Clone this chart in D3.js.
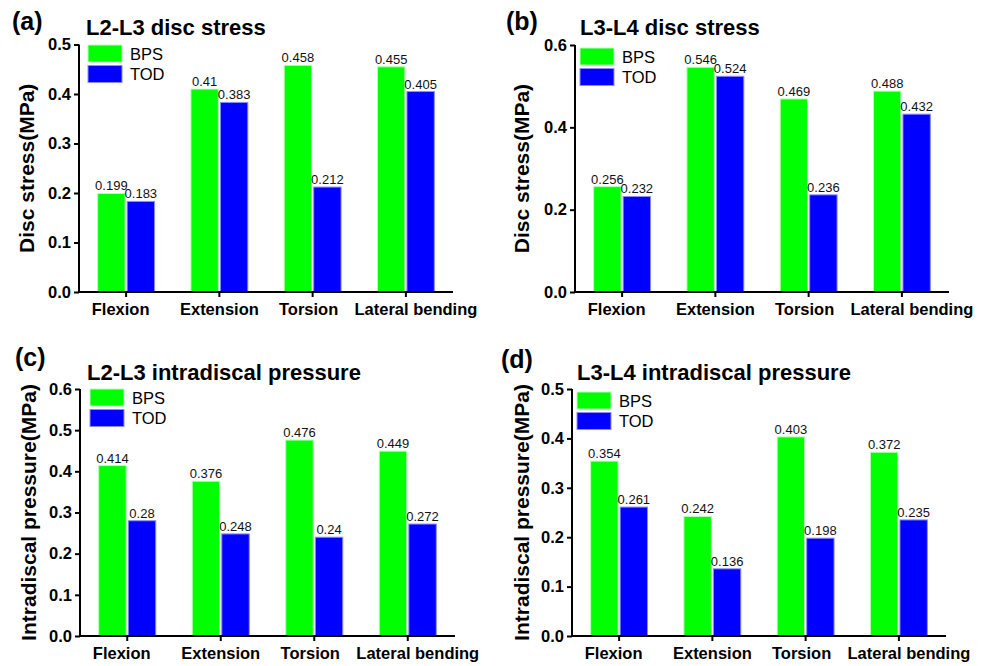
<!DOCTYPE html>
<html>
<head>
<meta charset="utf-8">
<script src="https://cdn.jsdelivr.net/npm/d3@7/dist/d3.min.js"></script>
<style>
  html, body { margin: 0; padding: 0; background: #fff; }
  svg { display: block; }
  text { font-family: "Liberation Sans", Arial, sans-serif; }
</style>
</head>
<body>
<svg id="chart" width="988" height="666"></svg>
<script>
// ---- Data ----
const categories = ["Flexion", "Extension", "Torsion", "Lateral bending"];
const seriesNames = ["BPS", "TOD"];

const bpsL2L3Stress = [0.199, 0.41, 0.458, 0.455];
const todL2L3Stress = [0.183, 0.383, 0.212, 0.405];

const bpsL3L4Stress = [0.256, 0.546, 0.469, 0.488];
const todL3L4Stress = [0.232, 0.524, 0.236, 0.432];

const bpsL2L3Pressure = [0.414, 0.376, 0.476, 0.449];
const todL2L3Pressure = [0.28, 0.248, 0.24, 0.272];

const bpsL3L4Pressure = [0.354, 0.242, 0.403, 0.372];
const todL3L4Pressure = [0.261, 0.136, 0.198, 0.235];

const ticksA = [0, 0.1, 0.2, 0.3, 0.4, 0.5];
const ticksB = [0, 0.2, 0.4, 0.6];
const ticksC = [0, 0.1, 0.2, 0.3, 0.4, 0.5, 0.6];
const ticksD = [0, 0.1, 0.2, 0.3, 0.4, 0.5];

const valueLabelsA = [["0.199","0.41","0.458","0.455"],["0.183","0.383","0.212","0.405"]];
const valueLabelsB = [["0.256","0.546","0.469","0.488"],["0.232","0.524","0.236","0.432"]];
const valueLabelsC = [["0.414","0.376","0.476","0.449"],["0.28","0.248","0.24","0.272"]];
const valueLabelsD = [["0.354","0.242","0.403","0.372"],["0.261","0.136","0.198","0.235"]];

// ---- Layout (styles only) ----
const colors = ["#00ff00", "#0000ff"];
const strokes = ["#b8ffb8", "#8c8cff"];
const xLabelShift = [-5.5, 0, -4, 10];

const panels = [
  { tag: "(a)", title: "L2-L3 disc stress", ylabel: "Disc stress(MPa)",
    series: [bpsL2L3Stress, todL2L3Stress], labels: valueLabelsA, ticks: ticksA, ymax: 0.5,
    x0: 79, x1: 453, yb: 292, yt: 44.5, tagX: 12, tagY: 30, titleX: 86, titleY: 35,
    legX: 88, legY: 45, ylabX: 27 },
  { tag: "(b)", title: "L3-L4 disc stress", ylabel: "Disc stress(MPa)",
    series: [bpsL3L4Stress, todL3L4Stress], labels: valueLabelsB, ticks: ticksB, ymax: 0.6,
    x0: 575, x1: 949, yb: 292, yt: 45, tagX: 506, tagY: 30, titleX: 580, titleY: 35,
    legX: 580, legY: 48, ylabX: 522 },
  { tag: "(c)", title: "L2-L3 intradiscal pressure", ylabel: "Intradiscal pressure(MPa)",
    series: [bpsL2L3Pressure, todL2L3Pressure], labels: valueLabelsC, ticks: ticksC, ymax: 0.6,
    x0: 80, x1: 455, yb: 636, yt: 389, tagX: 15, tagY: 366, titleX: 87, titleY: 380,
    legX: 90, legY: 389, ylabX: 29 },
  { tag: "(d)", title: "L3-L4 intradiscal pressure", ylabel: "Intradiscal pressure(MPa)",
    series: [bpsL3L4Pressure, todL3L4Pressure], labels: valueLabelsD, ticks: ticksD, ymax: 0.5,
    x0: 572, x1: 946, yb: 636, yt: 389, tagX: 501, tagY: 368, titleX: 577, titleY: 380,
    legX: 577, legY: 392, ylabX: 522 }
];

const svg = d3.select("#chart");

panels.forEach(p => {
  const g = svg.append("g");
  const x = d3.scaleBand().domain(categories).range([p.x0, p.x1]).paddingInner(0.39).paddingOuter(0.2);
  const xs = d3.scaleBand().domain(seriesNames).range([0, x.bandwidth()]).paddingInner(0.07);
  const y = d3.scaleLinear().domain([0, p.ymax]).range([p.yb, p.yt]);

  // bars
  seriesNames.forEach((s, si) => {
    g.selectAll(null).data(p.series[si]).enter().append("rect")
      .attr("x", (d, i) => x(categories[i]) + xs(s))
      .attr("y", d => y(d))
      .attr("width", xs.bandwidth())
      .attr("height", d => y(0) - y(d))
      .attr("fill", colors[si])
      .attr("stroke", strokes[si])
      .attr("stroke-width", 1);
    g.selectAll(null).data(p.series[si]).enter().append("text")
      .attr("x", (d, i) => x(categories[i]) + xs(s) + xs.bandwidth() / 2)
      .attr("y", d => y(d) - 3)
      .attr("text-anchor", "middle")
      .attr("font-size", "13px")
      .attr("fill", "#111")
      .text((d, i) => p.labels[si][i]);
  });

  // y axis
  const yAxis = d3.axisLeft(y).tickValues(p.ticks).tickFormat(d3.format(".1f")).tickSize(5).tickSizeOuter(0);
  const ya = g.append("g").attr("transform", `translate(${p.x0},0)`).call(yAxis);
  ya.select(".domain").attr("stroke", "#000").attr("stroke-width", 2).attr("d", `M0,${p.yb}V${p.yt}`);
  ya.selectAll(".tick line").attr("stroke", "#000").attr("stroke-width", 2);
  ya.selectAll(".tick text").attr("font-size", "16.5px").attr("font-weight", "bold")
    .attr("font-family", "Liberation Sans, Arial, sans-serif").attr("fill", "#000").attr("x", -8);

  // x axis
  const xAxis = d3.axisBottom(x).tickSize(5).tickSizeOuter(0);
  const xa = g.append("g").attr("transform", `translate(0,${p.yb})`).call(xAxis);
  xa.select(".domain").attr("stroke", "#000").attr("stroke-width", 2).attr("d", `M${p.x0},0H${p.x1}`);
  xa.selectAll(".tick line").attr("stroke", "#000").attr("stroke-width", 2);
  xa.selectAll(".tick text").attr("font-size", "16.5px").attr("font-weight", "bold")
    .attr("font-family", "Liberation Sans, Arial, sans-serif").attr("fill", "#000")
    .attr("y", 11).attr("dy", "0.71em")
    .attr("x", (d, i) => xLabelShift[i]);

  // y label
  g.append("text")
    .attr("transform", `translate(${p.ylabX},${(p.yb + p.yt) / 2}) rotate(-90)`)
    .attr("text-anchor", "middle").attr("dy", "0.35em")
    .attr("font-size", "21px").attr("font-weight", "bold").attr("fill", "#000")
    .text(p.ylabel);

  // tag and title
  g.append("text").attr("x", p.tagX).attr("y", p.tagY)
    .attr("font-size", "25px").attr("font-weight", "bold").attr("fill", "#000").text(p.tag);
  g.append("text").attr("x", p.titleX).attr("y", p.titleY)
    .attr("font-size", "22px").attr("font-weight", "bold").attr("fill", "#000").text(p.title);

  // legend
  seriesNames.forEach((s, si) => {
    const ly = p.legY + si * 20.5;
    g.append("rect").attr("x", p.legX).attr("y", ly).attr("width", 34).attr("height", 17)
      .attr("fill", colors[si]).attr("stroke", strokes[si]).attr("stroke-width", 1);
    g.append("text").attr("x", p.legX + 42).attr("y", ly + 14.5)
      .attr("font-size", "16.5px").attr("fill", "#000").text(s);
  });
});
</script>
</body>
</html>
